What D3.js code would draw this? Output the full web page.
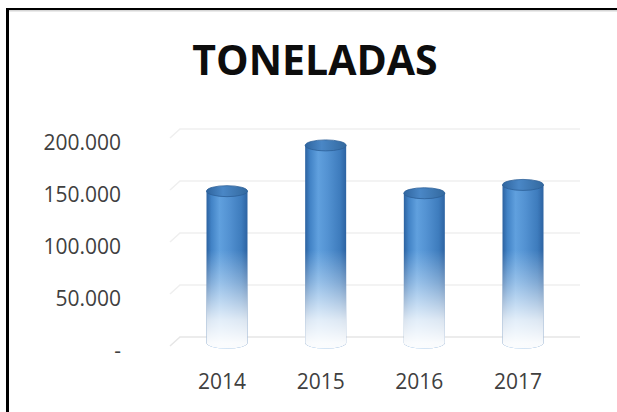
<!DOCTYPE html>
<html>
<head>
<meta charset="utf-8">
<script src="https://cdn.jsdelivr.net/npm/d3@7"></script>
<style>
  html, body { margin: 0; padding: 0; background: #fff; }
  svg { display: block; }
</style>
</head>
<body>
<script>
// Annual tonnage
const years = ["2014", "2015", "2016", "2017"];
const tonnes = [146000, 190000, 144000, 152000];
const tickValues = [0, 50000, 100000, 150000, 200000];
const tickLabels = ["-", "50.000", "100.000", "150.000", "200.000"];
const title = "TONELADAS";

const W = 617, H = 412;
const svg = d3.select("body").append("svg").attr("width", W).attr("height", H);

const y = d3.scaleLinear().domain([0, 200000]).range([343, 135]);
const x = d3.scalePoint().domain(years).range([227, 523]);
const barW = 41, rx = barW / 2, ry = 5.5;

const defs = svg.append("defs");
// horizontal shading for the cylinder body
const side = defs.append("linearGradient").attr("id", "side").attr("x1", 0).attr("x2", 1).attr("y1", 0).attr("y2", 0);
[[0, "#2c62a0"], [0.12, "#4283c6"], [0.32, "#60a0de"], [0.55, "#5392d2"], [0.85, "#3e7cbd"], [1, "#2d63a2"]]
  .forEach(([o, c]) => side.append("stop").attr("offset", o).attr("stop-color", c));
// top cap
const cap = defs.append("linearGradient").attr("id", "cap").attr("x1", 0).attr("x2", 1).attr("y1", 0).attr("y2", 0);
[[0, "#2f659f"], [0.4, "#4a87c6"], [1, "#33699f"]]
  .forEach(([o, c]) => cap.append("stop").attr("offset", o).attr("stop-color", c));
// white fade toward the floor
const fade = defs.append("linearGradient").attr("id", "fade")
  .attr("gradientUnits", "userSpaceOnUse").attr("x1", 0).attr("x2", 0).attr("y1", 250).attr("y2", 343);
[[0, "#ffffff", 0], [0.35, "#ffffff", 0.35], [0.75, "#ffffff", 0.82], [1, "#ffffff", 0.97]]
  .forEach(([o, c, a]) => fade.append("stop").attr("offset", o).attr("stop-color", c).attr("stop-opacity", a));

// frame
svg.append("rect").attr("x", 6).attr("y", 8).attr("width", 3).attr("height", H - 8).attr("fill", "#000");
svg.append("rect").attr("x", 6).attr("y", 8).attr("width", W - 6).attr("height", 2).attr("fill", "#000");
svg.append("rect").attr("x", 9).attr("y", 10).attr("width", W - 9).attr("height", 1.5).attr("fill", "#bbb").attr("opacity", 0.6);

// title
svg.append("text").attr("x", 315).attr("y", 75).attr("text-anchor", "middle")
  .attr("font-family", "'Open Sans', sans-serif").attr("font-weight", 700).attr("font-size", 41)
  .attr("fill", "#0d0d0d").text(title);

// back-wall gridlines with floor bend
const grid = svg.append("g");
tickValues.forEach(v => {
  const gy = y(v) - 6;
  grid.append("path")
    .attr("d", `M170,${gy + 9} L180,${gy} L580,${gy}`)
    .attr("fill", "none").attr("stroke", v === 0 ? "#e6e6e6" : "#efefef").attr("stroke-width", 1.5);
});

// y tick labels
svg.append("g").selectAll("text").data(tickValues).join("text")
  .attr("x", 121).attr("y", d => y(d) + 15).attr("text-anchor", "end")
  .attr("font-family", "'Open Sans', sans-serif").attr("font-size", 21).attr("fill", "#404040")
  .text((d, i) => tickLabels[i]);

// cylinders
const bars = svg.append("g").selectAll("g").data(years.map((yr, i) => ({ yr, v: tonnes[i] }))).join("g");
const body = d => {
  const cx = x(d.yr), top = y(d.v), base = y(0);
  return `M${cx - rx},${top} L${cx - rx},${base} A${rx},${ry} 0 0 0 ${cx + rx},${base} L${cx + rx},${top} Z`;
};
bars.append("path").attr("d", body).attr("fill", "url(#side)");
bars.append("path").attr("d", body).attr("fill", "url(#fade)");
bars.append("ellipse")
  .attr("cx", d => x(d.yr)).attr("cy", d => y(d.v)).attr("rx", rx).attr("ry", ry)
  .attr("fill", "url(#cap)").attr("stroke", "#2c5f98").attr("stroke-width", 0.8);

// category labels
svg.append("g").selectAll("text").data(years).join("text")
  .attr("x", d => x(d) - 5).attr("y", 389).attr("text-anchor", "middle")
  .attr("font-family", "'Open Sans', sans-serif").attr("font-size", 21).attr("fill", "#404040")
  .text(d => d);
</script>
</body>
</html>
